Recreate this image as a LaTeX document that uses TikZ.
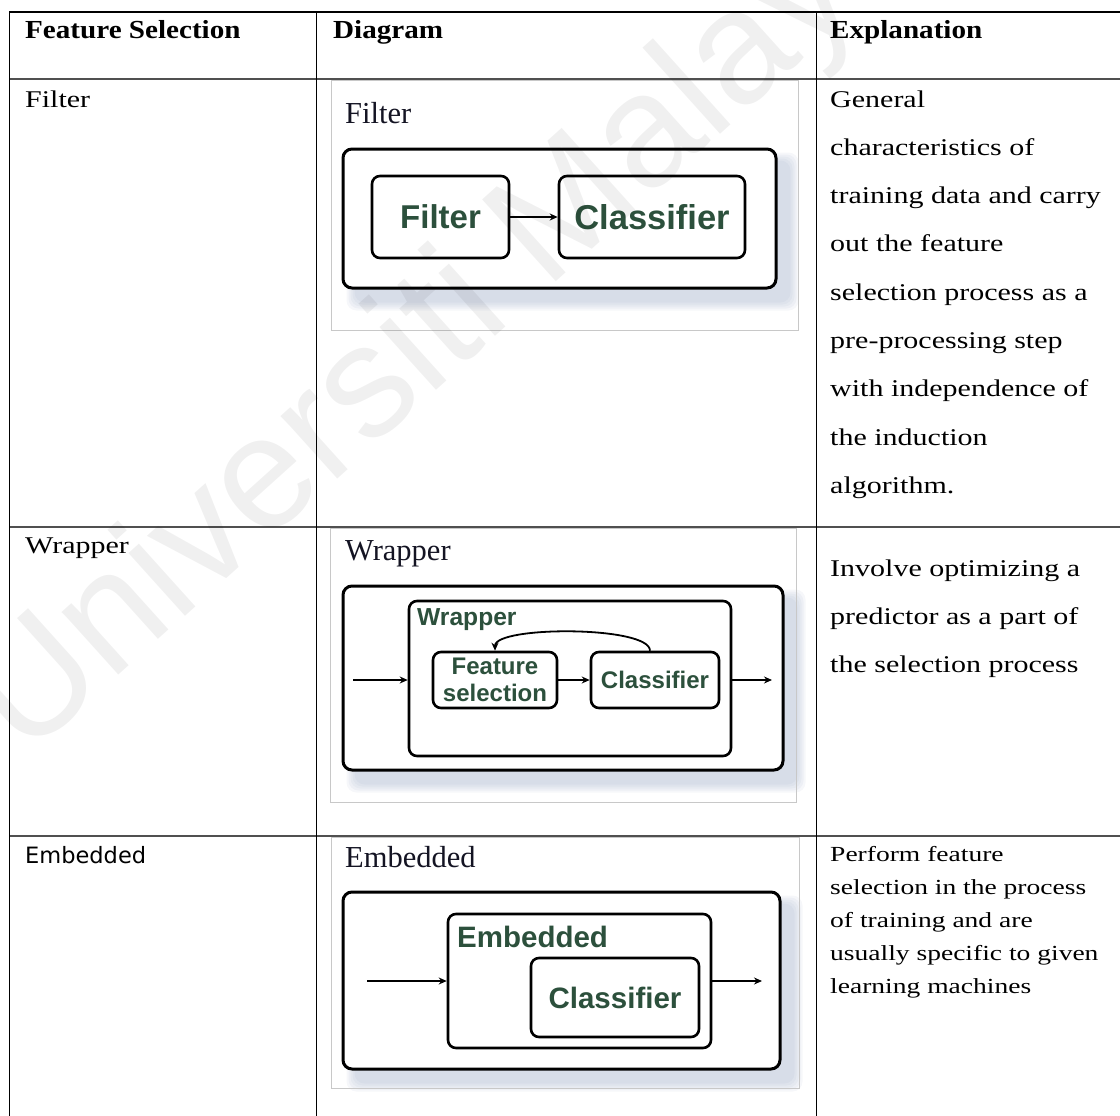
\documentclass[tikz,border=0pt]{standalone}
\usepackage{fontspec}
\setmainfont{Liberation Serif}
\newfontfamily\bodyfont[FakeStretch=1.25]{Liberation Serif}
\newfontfamily\headfont[FakeStretch=1.12]{Liberation Serif}
\newfontfamily\lowfont[FakeStretch=1.28]{Liberation Serif}
\newfontfamily\boxfont{Liberation Sans}
\newfontfamily\labelfont{DejaVu Sans}
\usetikzlibrary{arrows.meta,calc,backgrounds}

\definecolor{boxgreen}{RGB}{44,80,60}
\definecolor{titleink}{RGB}{20,20,35}
\definecolor{shadowblue}{RGB}{150,165,195}
\definecolor{framegray}{RGB}{200,200,200}
\definecolor{rulegray}{RGB}{80,80,80}

\tikzset{
  txt/.style={inner sep=0pt, anchor=base west},
  headtxt/.style={txt, font=\headfont\bfseries\fontsize{26}{30}\selectfont},
  celltxt/.style={txt, font=\bodyfont\fontsize{24}{28}\selectfont},
  lowtxt/.style={txt, font=\lowfont\fontsize{21.5}{26}\selectfont},
  sanscell/.style={txt, font=\labelfont\fontsize{22.5}{26}\selectfont},
  imgframe/.style={draw=framegray, line width=1pt, inner sep=0pt},
  imgtitle/.style={txt, text=titleink, font=\fontsize{30.5}{34}\selectfont},
  bigbox/.style={draw=black, line width=3pt, rounded corners=9pt, fill=white, inner sep=0pt},
  smallbox/.style={draw=black, line width=2.6pt, rounded corners=8pt, fill=white, inner sep=0pt},
  boxtxt/.style={text=boxgreen, font=\boxfont\bfseries\fontsize{#1}{#1}\selectfont, inner sep=0pt},
  flow/.style={line width=1.8pt, -{Stealth[length=8pt,width=7pt]}},
  tablerule/.style={line width=1pt, draw=black},
  rowrule/.style={line width=2pt, draw=rulegray},
}

% soft blue-grey shadow behind a box: node, offset, opacity
\newcommand{\softshade}[3]{%
  \foreach \e in {0,2,4,6,8} {
    \fill[shadowblue, opacity=#3, rounded corners=10pt]
      ($(#1.north west)+(#2-\e,#2-\e)$) rectangle ($(#1.south east)+(#2+\e,#2+\e)$);
  }}

\begin{document}
\begin{tikzpicture}[x=1pt, y=-1pt]
\useasboundingbox (0,0) rectangle (1120,1116);

% ---------- table rules ----------
\draw[tablerule, line width=1.5pt] (9,12) -- (1120,12);
\draw[rowrule] (9,79) -- (1120,79);
\draw[rowrule] (9,527) -- (1120,527);
\draw[rowrule] (9,836) -- (1120,836);
\draw[tablerule] (9,12) -- (9,1116);
\draw[tablerule] (316,12) -- (316,1116);
\draw[tablerule] (816,12) -- (816,1116);

% ---------- header ----------
\node[headtxt] (h1) at (25,39) {Feature Selection};
\node[headtxt] (h2) at (333,39) {Diagram};
\node[headtxt] (h3) at (830,39) {Explanation};

% ---------- first column ----------
\node[celltxt] (c1) at (25,107) {Filter};
\node[celltxt] (c2) at (25,553) {Wrapper};
\node[sanscell] (c3) at (25,863) {Embedded};

% ---------- explanations ----------
\foreach \t [count=\i] in {General, characteristics of, training data and carry,
  out the feature, selection process as a, pre-processing step,
  with independence of, the induction, algorithm.}
  \node[celltxt] (fx\i) at (830,{107+(\i-1)*48.3}) {\t};

\foreach \t [count=\i] in {Involve optimizing a, predictor as a part of,
  the selection process}
  \node[celltxt] (wx\i) at (830,{576+(\i-1)*48.3}) {\t};

\foreach \t [count=\i] in {Perform feature, selection in the process,
  of training and are, usually specific to given, learning machines}
  \node[lowtxt] (ex\i) at (830,{861+(\i-1)*33}) {\t};

% ---------- Filter diagram ----------
\node[imgframe, minimum width=467, minimum height=249] (fimg) at (564.5,205.5) {};
\node[imgtitle] (ftitle) at (345,123) {Filter};
\node[bigbox, minimum width=433, minimum height=139] (fout) at (559.5,218.5) {};
\node[smallbox, minimum width=137, minimum height=82] (ffil) at (440.5,217) {};
\node[boxtxt=33] (ffiltxt) at (ffil.center) {Filter};
\node[smallbox, minimum width=186, minimum height=82] (fcls) at (652,217) {};
\node[boxtxt=34.5] (fclstxt) at (fcls.center) {Classifier};
\draw[flow] (ffil.east) -- (fcls.west);

% ---------- Wrapper diagram ----------
\node[imgframe, minimum width=466, minimum height=274] (wimg) at (563,665) {};
\node[imgtitle] (wtitle) at (345,560) {Wrapper};
\node[bigbox, minimum width=440, minimum height=184] (wout) at (563,678) {};
\node[smallbox, minimum width=322, minimum height=155] (winner) at (570,678.5) {};
\node[boxtxt=24.6, anchor=west] (wlab) at (417,620) {Wrapper};
\node[smallbox, minimum width=124, minimum height=56] (wfs) at (495,680) {};
\node[boxtxt=24, align=center, font=\boxfont\bfseries\fontsize{24}{27}\selectfont] (wfstxt) at (wfs.center) {Feature\\selection};
\node[smallbox, minimum width=128, minimum height=56] (wcl) at (655,680) {};
\node[boxtxt=24] (wcltxt) at (wcl.center) {Classifier};
\coordinate (win) at (353,680);
\coordinate (wend) at (772,680);
\draw[flow] (win) -- (winner.west |- win);
\draw[flow] (wfs.east) -- (wcl.west);
\draw[flow] (winner.east |- win) -- (wend);
\draw[flow] ([xshift=-5pt]wcl.north) .. controls ($(wcl.north)+(-5,-25)$) and ($(wfs.north)+(0,-25)$) .. (wfs.north);

% ---------- Embedded diagram ----------
\node[imgframe, minimum width=468, minimum height=251] (eimg) at (565,962.5) {};
\node[imgtitle] (etitle) at (345,867) {Embedded};
\node[bigbox, minimum width=437, minimum height=177] (eout) at (561.5,980.5) {};
\node[smallbox, minimum width=263, minimum height=134] (einner) at (579.5,981) {};
\node[boxtxt=29.5, anchor=west] (elab) at (457,937) {Embedded};
\node[smallbox, minimum width=168, minimum height=79] (ecl) at (615,997.5) {};
\node[boxtxt=29.5] (ecltxt) at (ecl.center) {Classifier};
\coordinate (ein) at (367,981);
\coordinate (eend) at (762,981);
\draw[flow] (ein) -- (einner.west |- ein);
\draw[flow] (einner.east |- ein) -- (eend);

% ---------- shadows ----------
\begin{scope}[on background layer]
  \softshade{fout}{13}{0.09}
  \softshade{wout}{13}{0.09}
  \softshade{eout}{13}{0.09}
  \softshade{winner}{6}{0.05}
  \softshade{einner}{7}{0.06}
  \softshade{ecl}{6}{0.05}
\end{scope}

% ---------- watermark ----------
\begin{scope}
  \clip (0,0) rectangle (1120,1116);
  \node[rotate=42, anchor=base west, inner sep=0pt, text=black, opacity=0.06,
        font=\boxfont\fontsize{160}{160}\selectfont] (mark) at (25,760) {Universiti Malaya};
\end{scope}
\end{tikzpicture}
\end{document}
